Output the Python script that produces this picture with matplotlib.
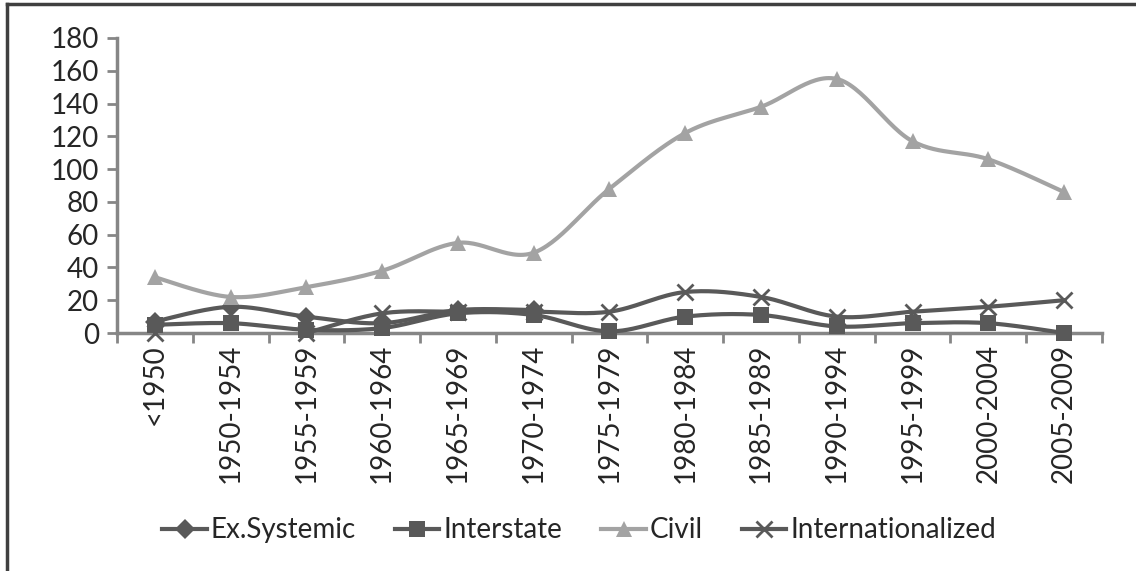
import numpy as np
import matplotlib.pyplot as plt
from matplotlib.lines import Line2D

periods = ['<1950', '1950-1954', '1955-1959', '1960-1964', '1965-1969', '1970-1974',
           '1975-1979', '1980-1984', '1985-1989', '1990-1994', '1995-1999',
           '2000-2004', '2005-2009']
nan = np.nan
ex_systemic = [7, 16, 10, 6, 14, 14]
interstate = [5, 6, 2, 3, 12, 11, 1, 10, 11, 4, 6, 6, 0]
civil = [34, 22, 28, 38, 55, 49, 88, 122, 138, 155, 117, 106, 86]
internationalized = [0, nan, 0, 12, 13, 13, 13, 25, 22, 10, 13, 16, 20]

plt.rcParams['font.family'] = ['Lato', 'DejaVu Sans']

dark = '#595959'
light = '#a3a3a3'
axis_col = '#868686'
fs = 20


def smooth(x, y, n=30):
    # Catmull-Rom curve through the points (like Excel "smoothed line")
    x = np.asarray(x, float)
    y = np.asarray(y, float)
    if len(x) < 2:
        return [], []
    px = np.concatenate([[x[0]], x, [x[-1]]])
    py = np.concatenate([[y[0]], y, [y[-1]]])
    xs, ys = [], []
    for i in range(1, len(px) - 2):
        p0 = np.array([px[i - 1], py[i - 1]])
        p1 = np.array([px[i], py[i]])
        p2 = np.array([px[i + 1], py[i + 1]])
        p3 = np.array([px[i + 2], py[i + 2]])
        c1 = p1 + (p2 - p0) / 6
        c2 = p2 - (p3 - p1) / 6
        t = np.linspace(0, 1, n)[:, None]
        pts = ((1 - t) ** 3) * p1 + 3 * ((1 - t) ** 2) * t * c1 + 3 * (1 - t) * t ** 2 * c2 + t ** 3 * p2
        xs.extend(pts[:, 0])
        ys.extend(pts[:, 1])
    return xs, ys


fig = plt.figure(figsize=(11.36, 5.71), dpi=100)
ax = fig.add_axes([0.103, 0.4168, 0.867, 0.5167])

series = [
    ('Ex.Systemic', ex_systemic, dark, 'D', 10),
    ('Interstate', interstate, dark, 's', 11),
    ('Civil', civil, light, '^', 11),
    ('Internationalized', internationalized, dark, 'x', 11),
]

handles = []
for name, vals, col, mk, ms in series:
    vals = np.asarray(vals, float)
    xpos = np.arange(len(vals))
    # split into runs without gaps
    ok = ~np.isnan(vals)
    start = None
    for i in range(len(vals) + 1):
        if i < len(vals) and ok[i]:
            if start is None:
                start = i
        elif start is not None:
            sx, sy = smooth(xpos[start:i], vals[start:i])
            ax.plot(sx, sy, color=col, lw=3, zorder=3, clip_on=False)
            start = None
    ax.plot(xpos[ok], vals[ok], linestyle='none', marker=mk, color=col, ms=ms,
            mew=2 if mk == 'x' else 0, zorder=4, clip_on=False)
    handles.append(Line2D([], [], color=col, lw=3, marker=mk, ms=ms,
                          mew=2 if mk == 'x' else 0, label=name))

ax.set_xlim(-0.5, len(periods) - 0.5)
ax.set_ylim(0, 180)
ax.set_yticks(np.arange(0, 181, 20))
ax.set_xticks(np.arange(len(periods)))
ax.set_xticklabels(periods, rotation=90, fontsize=fs, color='#262626')
ax.set_xticks(np.arange(-0.5, len(periods)), minor=True)
ax.tick_params(axis='x', which='major', length=0, pad=8)
ax.tick_params(axis='x', which='minor', length=7, width=2, color=axis_col, direction='out')
ax.tick_params(axis='y', length=7, width=2, color=axis_col, labelsize=fs,
               labelcolor='#262626', pad=6)

for s in ['top', 'right']:
    ax.spines[s].set_visible(False)
for s in ['left', 'bottom']:
    ax.spines[s].set_color(axis_col)
    ax.spines[s].set_linewidth(2.5)

fig.legend(handles=handles, loc='center', bbox_to_anchor=(0.51, 0.071), ncol=4,
           frameon=False, fontsize=fs, handlelength=1.6, handletextpad=0.15,
           columnspacing=1.4, labelcolor='#262626')

# frame round the picture
fig.add_artist(Line2D([0.0062, 0.0062], [0, 0.993], color='#404040', lw=2.5,
                      transform=fig.transFigure))
fig.add_artist(Line2D([0.0062, 1], [0.993, 0.993], color='#404040', lw=2.5,
                      transform=fig.transFigure))

fig.savefig('out.png', dpi=100)
